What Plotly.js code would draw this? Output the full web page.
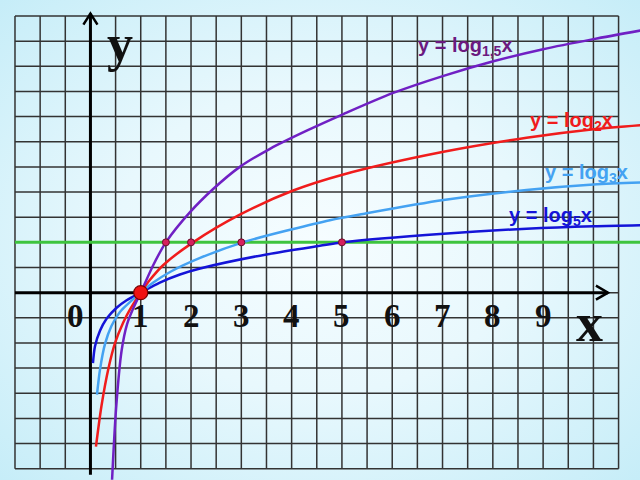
<!DOCTYPE html>
<html>
<head>
<meta charset="utf-8">
<script src="https://cdn.plot.ly/plotly-3.0.1.min.js"></script>
<style>
  html, body { margin: 0; padding: 0; }
  body {
    width: 640px; height: 480px; overflow: hidden;
    background: radial-gradient(ellipse at 50% 50%, #f6fdff 0%, #e8f8fd 45%, #c6edf8 100%);
  }
  #chart { width: 640px; height: 480px; }
</style>
</head>
<body>
<div id="chart"></div>
<script>
// ---- data ----
var purpleX = [0.43, 0.51, 0.62, 0.73, 0.87, 1, 1.25, 1.5, 1.98, 2.44, 2.97, 3.57, 4.3, 5.03, 6.02, 7.02, 8.01, 9.0, 10.0, 10.93];
var purpleY = [-3.72, -2.3, -1.15, -0.62, -0.27, 0, 0.55, 1, 1.6, 2.06, 2.5, 2.86, 3.22, 3.55, 3.97, 4.31, 4.6, 4.84, 5.04, 5.21];

var redX = [0.11, 0.22, 0.36, 0.49, 0.65, 0.79, 1, 1.18, 1.45, 2.04, 2.97, 4.03, 5.03, 7.02, 8.67, 10.0, 10.93];
var redY = [-3.06, -2.25, -1.5, -1.0, -0.6, -0.33, 0, 0.25, 0.55, 1.0, 1.55, 2.03, 2.35, 2.8, 3.08, 3.25, 3.33];

var lightX = [0.13, 0.19, 0.29, 0.42, 0.59, 1, 1.25, 1.6, 2.18, 3.03, 3.97, 4.76, 5.45, 7.02, 8.67, 10.0, 10.93];
var lightY = [-2.03, -1.53, -1.02, -0.66, -0.38, 0, 0.2, 0.42, 0.69, 1.0, 1.25, 1.44, 1.57, 1.84, 2.04, 2.15, 2.19];

var blueX = [0.05, 0.09, 0.19, 0.32, 0.52, 0.72, 1, 1.38, 1.78, 2.18, 3.5, 4.56, 5.02, 7.02, 8.67, 10.0, 10.93];
var blueY = [-1.40, -1.07, -0.76, -0.52, -0.3, -0.15, 0, 0.2, 0.36, 0.48, 0.76, 0.93, 1.0, 1.17, 1.27, 1.32, 1.34];

var levelX = [-1.5, 10.93];
var levelY = [1, 1];

var dotX = [1.5, 2, 3, 5];
var dotY = [1, 1, 1, 1];

var originX = [1];
var originY = [0];

var tickVals = [0, 1, 2, 3, 4, 5, 6, 7, 8, 9];
var tickText = ["0", "1", "2", "3", "4", "5", "6", "7", "8", "9"];

var gridXVals = [];
for (var gx = -1.5; gx <= 10.51; gx += 0.5) gridXVals.push(gx);
var gridYVals = [];
for (var gy = -3.5; gy <= 5.51; gy += 0.5) gridYVals.push(gy);

// ---- traces ----
function curve(x, y, color) {
  return { x: x, y: y, type: 'scatter', mode: 'lines',
    line: { color: color, width: 2.5, shape: 'spline', smoothing: 0.8 },
    hoverinfo: 'skip', showlegend: false };
}
var traces = [
  { x: levelX, y: levelY, type: 'scatter', mode: 'lines',
    line: { color: '#3ec43e', width: 3 }, showlegend: false, hoverinfo: 'skip' },
  curve(blueX, blueY, '#1414d8'),
  curve(lightX, lightY, '#44a2f2'),
  curve(redX, redY, '#f01c1c'),
  curve(purpleX, purpleY, '#7020c4'),
  { x: dotX, y: dotY, type: 'scatter', mode: 'markers',
    marker: { color: '#d6205e', size: 7, line: { color: '#6a0f2c', width: 1 } },
    showlegend: false, hoverinfo: 'skip' },
  { x: originX, y: originY, type: 'scatter', mode: 'markers',
    marker: { color: '#f01212', size: 14, line: { color: '#7a0000', width: 1.2 } },
    showlegend: false, hoverinfo: 'skip' }
];

// ---- grid & axes as shapes ----
var shapes = [];
var gridColor = '#333333';
gridXVals.forEach(function (v) {
  shapes.push({ type: 'line', layer: 'below', xref: 'x', yref: 'y',
    x0: v, x1: v, y0: -3.5, y1: 5.5, line: { color: gridColor, width: 1.5 } });
});
gridYVals.forEach(function (v) {
  shapes.push({ type: 'line', layer: 'below', xref: 'x', yref: 'y',
    x0: -1.5, x1: 10.5, y0: v, y1: v, line: { color: gridColor, width: 1.5 } });
});
// axes
shapes.push({ type: 'line', layer: 'below', x0: 0, x1: 0, y0: -3.62, y1: 5.55,
  line: { color: '#000', width: 3 } });
shapes.push({ type: 'line', layer: 'below', x0: -1.5, x1: 10.29, y0: 0, y1: 0,
  line: { color: '#000', width: 3 } });
// arrow heads
shapes.push({ type: 'path', layer: 'below', path: 'M -0.14 5.33 L 0 5.55 L 0.14 5.33',
  line: { color: '#000', width: 2.5 } });
shapes.push({ type: 'path', layer: 'below', path: 'M 10.05 0.14 L 10.29 0 L 10.05 -0.14',
  line: { color: '#000', width: 2.5 } });

// ---- annotations ----
var annotations = [];
tickVals.forEach(function (v, i) {
  annotations.push({ x: v, y: -0.46, xref: 'x', yref: 'y', text: '<b>' + tickText[i] + '</b>',
    showarrow: false, xshift: (v === 0 ? -15 : 0),
    font: { family: 'Liberation Serif', size: 33, color: '#111' } });
});
annotations.push({ x: 0.58, y: 4.95, text: '<b>y</b>', showarrow: false,
  font: { family: 'Liberation Serif', size: 52, color: '#111' } });
annotations.push({ x: 9.92, y: -0.6, text: '<b>x</b>', showarrow: false,
  font: { family: 'Liberation Serif', size: 54, color: '#111' } });

function label(x, y, base, color) {
  return { x: x, y: y, text: '<b>y = log<sub>' + base + '</sub>x</b>', showarrow: false,
    font: { family: 'Liberation Sans', size: 20, color: color } };
}
annotations.push(label(7.45, 4.9, '1,5', '#6b1a80'));
annotations.push(label(9.57, 3.41, '2', '#f01c1c'));
annotations.push(label(9.87, 2.36, '3', '#44a2f2'));
annotations.push(label(9.14, 1.52, '5', '#1414d8'));

var layout = {
  width: 640, height: 480,
  margin: { l: 0, r: 0, t: 0, b: 0, pad: 0 },
  paper_bgcolor: 'rgba(0,0,0,0)', plot_bgcolor: 'rgba(0,0,0,0)',
  xaxis: { range: [-1.798, 10.926], visible: false, fixedrange: true },
  yaxis: { range: [-3.725, 5.818], visible: false, fixedrange: true },
  shapes: shapes,
  annotations: annotations,
  showlegend: false
};

Plotly.newPlot('chart', traces, layout, { staticPlot: true, displayModeBar: false });
</script>
</body>
</html>
